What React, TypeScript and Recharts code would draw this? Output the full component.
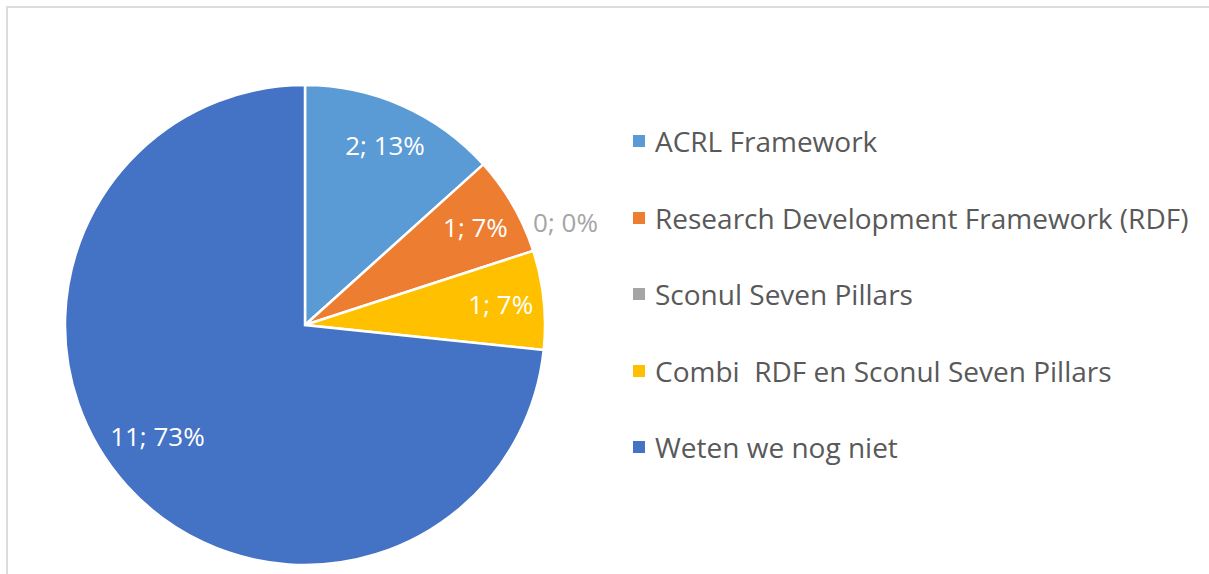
import { Pie, PieChart } from 'recharts';

const categories = [
  'ACRL Framework',
  'Research Development Framework (RDF)',
  'Sconul Seven Pillars',
  'Combi  RDF en Sconul Seven Pillars',
  'Weten we nog niet',
];
const counts = [2, 1, 0, 1, 11];
const colors = ['#5B9BD5', '#ED7D31', '#A5A5A5', '#FFC000', '#4472C4'];

const FONT = '"Open Sans", "Noto Sans", sans-serif';
const RAD = Math.PI / 180;

const data = categories.map((name, i) => ({ name, value: counts[i], fill: colors[i] }));

// Excel-style "value; percent" labels inside the slice; an empty slice gets
// its label outside the rim in the slice colour. The dominant slice's label
// is pulled in a little, like Excel's best-fit placement.
function renderLabel(props: any) {
  const { cx, cy, midAngle, outerRadius, value, percent, index } = props;
  const empty = value === 0;
  const big = percent > 0.5;
  let r = outerRadius * 0.82;
  let a = midAngle;
  if (empty) {
    r = outerRadius + 40;
    a = midAngle + 3.5;
  } else if (big) {
    r = outerRadius * 0.77;
    a = midAngle - 5;
  }
  const x = cx + r * Math.cos(-a * RAD);
  const y = cy + r * Math.sin(-a * RAD);
  return (
    <text
      x={x}
      y={y}
      fill={empty ? colors[index] : '#ffffff'}
      fontSize={26}
      fontFamily={FONT}
      textAnchor="middle"
      dominantBaseline="central"
    >
      {`${value}; ${Math.round(percent * 100)}%`}
    </text>
  );
}

function LegendBox() {
  return (
    <div style={{ position: 'absolute', left: 633, top: 103, fontFamily: FONT, fontSize: 28, color: '#595959' }}>
      {data.map((d) => (
        <div key={d.name} style={{ display: 'flex', alignItems: 'center', height: 76.5, whiteSpace: 'pre' }}>
          <span style={{ width: 12, height: 12, background: d.fill, marginRight: 10, flex: 'none' }} />
          {d.name}
        </div>
      ))}
    </div>
  );
}

export default function App() {
  return (
    <div style={{ position: 'absolute', left: 0, top: 0, width: 1209, height: 574, background: '#fff', overflow: 'hidden' }}>
      <div
        style={{
          position: 'absolute',
          left: 6,
          top: 6,
          right: 0,
          bottom: 0,
          borderLeft: '2px solid #dcdcdc',
          borderTop: '2px solid #dcdcdc',
        }}
      />
      <div style={{ position: 'absolute', left: 0, top: 0 }}>
        <PieChart width={1209} height={574} margin={{ top: 0, right: 0, bottom: 0, left: 0 }}>
          <Pie
            data={data}
            dataKey="value"
            nameKey="name"
            cx={305}
            cy={325}
            outerRadius={240}
            startAngle={90}
            endAngle={-270}
            stroke="#ffffff"
            strokeWidth={2.5}
            label={renderLabel}
            labelLine={false}
            isAnimationActive={false}
          />
        </PieChart>
      </div>
      <LegendBox />
    </div>
  );
}
